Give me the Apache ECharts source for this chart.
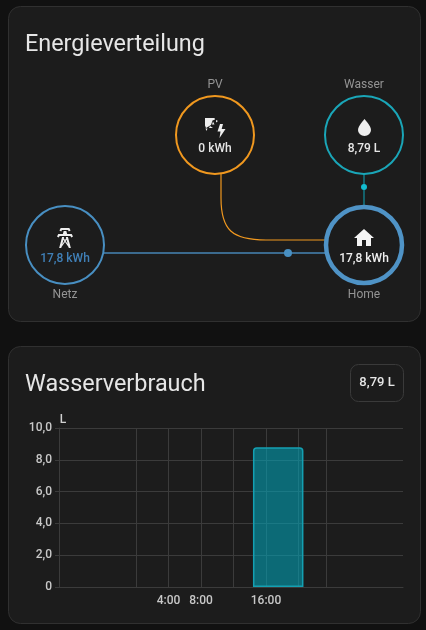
<!DOCTYPE html>
<html><head><meta charset="utf-8">
<style>html,body{margin:0;padding:0;background:#111111;overflow:hidden}#c{width:426px;height:630px}</style>
<script src="https://cdn.jsdelivr.net/npm/echarts@6/dist/echarts.min.js"></script>
</head><body><div id="c"></div>
<script>
// ---- Data ----
const hourData = [17.5];
const waterValues = [8.79];
const yTicks = [0, 2, 4, 6, 8, 10];
const xLabelHours = [4, 8, 16];
const xGridHours = [-9.48, 0, 4, 8, 12, 16, 20, 23.4];
const nodeNames = ['PV', 'Wasser', 'Netz', 'Home'];
const nodeValues = ['0 kWh', '8,79 L', '17,8 kWh', '17,8 kWh'];
const titles = ['Energieverteilung', 'Wasserverbrauch'];
const totalBadge = '8,79 L';

// ---- Styles ----
const FONT = 'Roboto';
const ORANGE = '#f0981f', CYAN = '#1aa6b8', BLUE = '#488fc2', GRIDC = '#3b3b3b';
const ICON_HOME = 'M10,20V14H14V20H19V12H22L12,3L2,12H5V20H10Z';
const ICON_WATER = 'M12,20A6,6 0 0,1 6,14C6,10 12,3.25 12,3.25C12,3.25 18,10 18,14A6,6 0 0,1 12,20Z';
const ICON_TOWER = 'M8.28,5.45L6.5,4.55L7.76,2H16.23L17.5,4.55L15.72,5.44L15,4H9L8.28,5.45M18.62,8H14.09L13.3,5H10.7L9.91,8H5.38L4.1,10.55L5.89,11.44L6.62,10H17.38L18.1,11.45L19.89,10.56L18.62,8M17.77,22H15.7L15.46,21.1L12,15.9L8.53,21.1L8.3,22H6.23L9.12,11H11.19L10.83,12.35L12,14.1L13.16,12.35L12.81,11H14.88L17.77,22M11.4,15L10.5,13.65L9.32,18.13L11.4,15M14.68,18.12L13.5,13.64L12.6,15L14.68,18.12Z';
const ICON_SOLAR = 'M205,118H214.5L215,119.5L212.5,120.5L211,125L208.5,126.5L206,128L205,125.5ZM205.5,128.5H207.5L206.5,131ZM210,126L213,128H209ZM213,121.5L214.5,124.5L212,124.5ZM216,120L218,121L216,122.5ZM220,124H223L221.7,129H225.5L219.5,138L220.5,131.5H217.5Z';
const icons = [
  {d:ICON_SOLAR, box:[205,118,20.5,20], fill:'#eeeeee'},
  {d:ICON_WATER, box:[358,119,13,17], fill:'#eeeeee'},
  {d:ICON_TOWER, box:[57,228,16,20], fill:'#eeeeee'},
  {d:ICON_HOME, box:[354,229,20,17], fill:'#f4f4f4'}
];

function text(x, y, t, size, color, weight, align) {
  return {type:'text', z:5, style:{x, y, text:t, fontFamily:FONT, fontSize:size, fontWeight:weight||400,
    fill:color, align:align||'center', verticalAlign:'middle'}};
}
function card(y, h) {
  return {type:'rect', z:-1, shape:{x:8.5, y, width:412, height:h, r:12},
    style:{fill:'#1c1c1c', stroke:'#303030', lineWidth:1}};
}
function circle(cx, cy, r, color, lw) {
  return {type:'circle', z:4, shape:{cx, cy, r}, style:{fill:'#1c1c1c', stroke:color, lineWidth:lw}};
}
function seg(x1, y1, x2, y2, color, lw) {
  return {type:'line', z:2, shape:{x1, y1, x2, y2}, style:{stroke:color, lineWidth:lw}};
}
function dot(cx, cy, r, color) {
  return {type:'circle', z:3, shape:{cx, cy, r}, style:{fill:color}};
}
const orangeCurve = {type:'bezierCurve', z:2, shape:{x1:221, y1:198, cpx1:221, cpy1:230, cpx2:232, cpy2:240, x2:266, y2:240}, style:{stroke:ORANGE, lineWidth:1.2, fill:null}};

const graphics = [
  card(6.5, 315), card(346.5, 277),
  text(25, 45, titles[0], 23.4, '#e6e6e6', 400, 'left'),
  text(25, 385, titles[1], 23.4, '#e6e6e6', 400, 'left'),
  {type:'rect', z:2, shape:{x:350.5, y:364.5, width:53, height:37, r:8}, style:{fill:'#1c1c1c', stroke:'#3a3a3a', lineWidth:1}},
  text(377, 383, totalBadge, 13, '#e6e6e6', 500),
  // flows
  seg(221, 174, 221, 198, ORANGE, 1.2), orangeCurve, seg(266, 240, 327, 240, ORANGE, 1.2),
  seg(104, 253, 327, 253, '#4684b4', 1.3), dot(288, 253, 4, BLUE),
  seg(364, 174, 364, 206, '#12808f', 1.4), dot(364, 187, 3, '#13bcd0'),
  // nodes
  circle(215, 135, 39, ORANGE, 2), circle(364, 135, 39, CYAN, 2),
  circle(65, 245, 39, BLUE, 2), circle(364, 245, 38, '#4f93c6', 4.5),
  text(215, 85, nodeNames[0], 12, '#949494'), text(364, 85, nodeNames[1], 12, '#949494'),
  text(65, 295, nodeNames[2], 12, '#949494'), text(364, 295, nodeNames[3], 12, '#949494'),
  text(215, 149, nodeValues[0], 12, '#e6e6e6', 500), text(364, 149, nodeValues[1], 12, '#e6e6e6', 500),
  text(65, 259, nodeValues[2], 12, '#4080b8', 500), text(364, 259, nodeValues[3], 12, '#eeeeee', 500)
];

const chart = echarts.init(document.getElementById('c'), null, {renderer:'canvas'});
chart.setOption({
  animation:false,
  backgroundColor:'#111111',
  graphic:{elements:graphics},
  grid:{left:59, right:23, top:428, bottom:43, containLabel:false},
  xAxis:{
    type:'value', min:xGridHours[0], max:32.86,
    axisLine:{show:true, lineStyle:{color:GRIDC}},
    axisTick:{show:false, customValues:xGridHours},
    axisLabel:{customValues:xLabelHours, formatter:v=>v+':00', color:'#c8c8c8', fontFamily:FONT, fontSize:12, fontWeight:500, margin:8},
    splitLine:{show:true, lineStyle:{color:GRIDC, width:1}}
  },
  yAxis:{
    type:'value', min:yTicks[0], max:yTicks[yTicks.length-1], interval:2,
    name:'L', nameLocation:'end', nameGap:2,
    nameTextStyle:{color:'#d0d0d0', fontFamily:FONT, fontSize:12, fontWeight:500, align:'center', padding:[0,0,0,8]},
    axisLine:{show:true, onZero:false, lineStyle:{color:GRIDC}},
    axisTick:{show:true, length:4, lineStyle:{color:GRIDC}},
    axisLabel:{formatter:v=>v===0?'0':v.toFixed(1).replace('.',','), color:'#c8c8c8', fontFamily:FONT, fontSize:12, fontWeight:500, margin:7},
    splitLine:{show:true, lineStyle:{color:GRIDC, width:1}}
  },
  series:[{
    type:'bar', barWidth:50.5, z:3,
    data:hourData.map((h,i)=>[h, waterValues[i]]),
    itemStyle:{color:'rgba(0,172,193,0.55)', borderColor:'#14a0b2', borderWidth:1.5, borderRadius:[3,3,0,0]}
  },{
    type:'custom', coordinateSystem:'none', z:20, silent:true,
    data:icons.map((_,i)=>i),
    renderItem:(p)=>{
      const ic = icons[p.dataIndex], b = ic.box;
      return {type:'path', shape:{pathData:ic.d, x:b[0], y:b[1], width:b[2], height:b[3], layout:'cover'}, style:{fill:ic.fill}};
    }
  }]
});
</script></body></html>
